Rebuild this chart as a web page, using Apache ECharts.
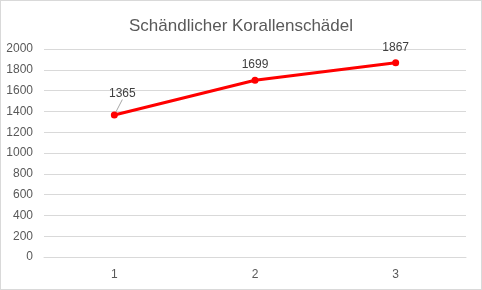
<!DOCTYPE html>
<html><head><meta charset="utf-8">
<script src="https://cdn.jsdelivr.net/npm/echarts@6/dist/echarts.min.js"></script>
<style>html,body{margin:0;padding:0;background:#fff}#c{width:482px;height:290px;box-sizing:border-box;border:1px solid #d9d9d9}</style>
</head><body><div id="c"></div>
<script>
const titleText = 'Schändlicher Korallenschädel';
const categories = ['1', '2', '3'];
const values = [1365, 1699, 1867];
const yMin = 0, yMax = 2000, yStep = 200;

const chart = echarts.init(document.getElementById('c'));
chart.setOption({
  animation: false,
  title: { text: titleText, left: 'center', top: 12,
    textStyle: { fontFamily: 'Liberation Sans, Arial', fontSize: 17, fontWeight: 'normal', color: '#595959' } },
  grid: { left: 43, right: 15, top: 48, bottom: 32 },
  xAxis: { type: 'category', data: categories, boundaryGap: true,
    axisLine: { show: true, lineStyle: { color: '#d9d9d9' } }, axisTick: { show: false },
    axisLabel: { color: '#595959', fontSize: 12, fontFamily: 'Liberation Sans, Arial', margin: 12 } },
  yAxis: { type: 'value', min: yMin, max: yMax, interval: yStep,
    axisLine: { show: false }, axisTick: { show: false },
    splitLine: { lineStyle: { color: '#d9d9d9' } },
    axisLabel: { color: '#595959', fontSize: 12, fontFamily: 'Liberation Sans, Arial', margin: 11,
      formatter: function (v) { return String(v); } } },
  series: [{
    type: 'line',
    data: values.map(function (v, i) {
      return i === 0 ? { value: v, labelLine: { show: true } } : { value: v };
    }),
    lineStyle: { color: '#ff0000', width: 3 },
    itemStyle: { color: '#ff0000' },
    symbol: 'circle', symbolSize: 7,
    label: { show: true, position: 'top', distance: 6, color: '#404040', fontSize: 12, fontFamily: 'Liberation Sans, Arial' },
    labelLine: { show: false, lineStyle: { color: '#a6a6a6', width: 1 } },
    labelLayout: function (p) { return p.dataIndex === 0 ? { dx: 8, dy: -6 } : {}; }
  }]
});
</script></body></html>
